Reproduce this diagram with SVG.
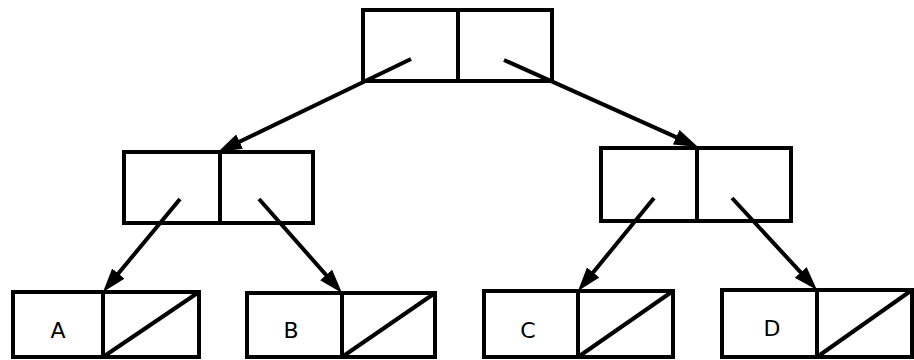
<svg xmlns="http://www.w3.org/2000/svg" width="914" height="360" viewBox="0 0 914 360">
<style>
.box{fill:none;stroke:#000;stroke-width:4;stroke-linejoin:miter}
.ln{stroke:#000;stroke-width:4;fill:none}
.edge{stroke:#000;stroke-width:4;fill:none;marker-end:url(#ah)}
.lbl{font-family:"DejaVu Sans","Liberation Sans",sans-serif;font-size:22px;text-anchor:middle;fill:#000}
</style>
<defs>
<marker id="ah" markerUnits="userSpaceOnUse" markerWidth="26" markerHeight="18" refX="14" refY="8" orient="auto">
<path d="M0,0 L24,8 L0,16 z" fill="#000"/>
</marker>
</defs>
<rect width="914" height="360" fill="#fff"/>
<g id="root">
<rect class="box" x="363" y="10" width="189" height="71"/>
<line class="ln" x1="458" y1="10" x2="458" y2="81"/>
</g>
<g id="midL">
<rect class="box" x="124" y="152" width="189" height="71"/>
<line class="ln" x1="220" y1="152" x2="220" y2="223"/>
</g>
<g id="midR">
<rect class="box" x="601" y="148" width="190" height="73"/>
<line class="ln" x1="697" y1="148" x2="697" y2="221"/>
</g>
<g id="leafA">
<rect class="box" x="13" y="292" width="186" height="65"/>
<line class="ln" x1="103" y1="292" x2="103" y2="357"/>
<line class="ln" x1="103" y1="357" x2="199" y2="292"/>
<text class="lbl" x="58" y="338">A</text>
</g>
<g id="leafB">
<rect class="box" x="247" y="293" width="188" height="64"/>
<line class="ln" x1="342" y1="293" x2="342" y2="357"/>
<line class="ln" x1="342" y1="357" x2="435" y2="293"/>
<text class="lbl" x="291" y="338">B</text>
</g>
<g id="leafC">
<rect class="box" x="484" y="291" width="189" height="66"/>
<line class="ln" x1="578" y1="291" x2="578" y2="357"/>
<line class="ln" x1="578" y1="357" x2="673" y2="291"/>
<text class="lbl" x="528" y="338">C</text>
</g>
<g id="leafD">
<rect class="box" x="722" y="290" width="190" height="67"/>
<line class="ln" x1="817" y1="290" x2="817" y2="357"/>
<line class="ln" x1="817" y1="357" x2="912" y2="290"/>
<text class="lbl" x="772" y="336">D</text>
</g>
<g id="connectors">
<line class="edge" x1="411" y1="59" x2="227" y2="147.7"/>
<line class="edge" x1="504" y1="60" x2="688.9" y2="142.9"/>
<line class="edge" x1="180" y1="199" x2="109.4" y2="284.3"/>
<line class="edge" x1="259" y1="199" x2="335.4" y2="285.5"/>
<line class="edge" x1="654" y1="198" x2="584.3" y2="283.3"/>
<line class="edge" x1="732" y1="198" x2="810.2" y2="282.7"/>
</g>
</svg>
